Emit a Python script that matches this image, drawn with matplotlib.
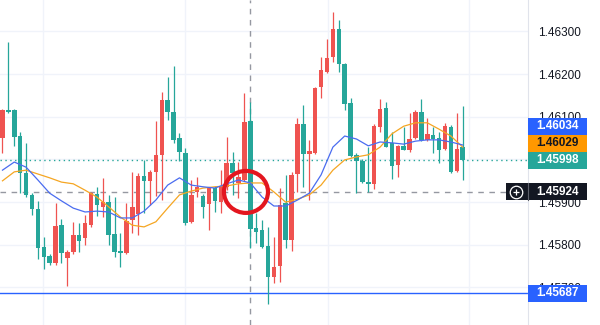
import numpy as np
import matplotlib
matplotlib.use("Agg")
import matplotlib.pyplot as plt
from matplotlib.patches import Rectangle, Ellipse
from matplotlib.transforms import blended_transform_factory

plt.rcParams['font.family'] = ['Liberation Sans', 'DejaVu Sans']

# OHLC (79 candles)
opens = [1.46050, 1.46116, 1.46116, 1.46055, 1.45968, 1.45917, 1.45884, 1.45795, 1.45774, 1.45757,
         1.45846, 1.45769, 1.45783, 1.45823, 1.45816, 1.45846, 1.45919, 1.45889, 1.45900, 1.45825,
         1.45785, 1.45781, 1.45858, 1.45872, 1.45961, 1.45950, 1.45971, 1.46011, 1.46139, 1.46111,
         1.46050, 1.46015, 1.45853, 1.45924, 1.45914, 1.45896, 1.45933, 1.45900, 1.45936, 1.45992,
         1.45945, 1.45952, 1.46090, 1.45839, 1.45835, 1.45797, 1.45725, 1.45750, 1.45898, 1.45811,
         1.45966, 1.46083, 1.46013, 1.46015, 1.46170, 1.46205, 1.46240, 1.46306, 1.46224, 1.46132,
         1.46011, 1.45996, 1.45947, 1.45943, 1.46076, 1.46121, 1.46039, 1.45987, 1.46032, 1.46022,
         1.46050, 1.46111, 1.46046, 1.46057, 1.46050, 1.46025, 1.46076, 1.45973, 1.46029]
highs = [1.46118, 1.46275, 1.46118, 1.46064, 1.46039, 1.45921, 1.45903, 1.45818, 1.45778, 1.45898,
         1.45861, 1.45788, 1.45853, 1.45851, 1.45870, 1.45924, 1.45936, 1.45957, 1.45917, 1.45912,
         1.45828, 1.45898, 1.45971, 1.45968, 1.45999, 1.45975, 1.46090, 1.46158, 1.46193, 1.46219,
         1.46062, 1.46027, 1.45952, 1.45959, 1.45919, 1.45936, 1.45938, 1.45975, 1.46053, 1.46018,
         1.45994, 1.46156, 1.46135, 1.45875, 1.45858, 1.45842, 1.45818, 1.45933, 1.45964, 1.45971,
         1.46097, 1.46128, 1.46046, 1.46170, 1.46240, 1.46282, 1.46346, 1.46327, 1.46227, 1.46144,
         1.46015, 1.46001, 1.46029, 1.46083, 1.46142, 1.46135, 1.46064, 1.46034, 1.46076, 1.46109,
         1.46116, 1.46142, 1.46097, 1.46076, 1.46064, 1.46086, 1.46081, 1.46109, 1.46125]
lows = [1.46015, 1.46109, 1.46032, 1.45921, 1.45912, 1.45870, 1.45767, 1.45743, 1.45753, 1.45753,
        1.45757, 1.45703, 1.45778, 1.45783, 1.45800, 1.45842, 1.45868, 1.45865, 1.45800, 1.45771,
        1.45748, 1.45778, 1.45828, 1.45823, 1.45875, 1.45893, 1.45914, 1.45905, 1.46092, 1.46039,
        1.45996, 1.45846, 1.45851, 1.45912, 1.45863, 1.45835, 1.45877, 1.45875, 1.45928, 1.45917,
        1.45910, 1.45950, 1.45793, 1.45804, 1.45793, 1.45661, 1.45710, 1.45713, 1.45793, 1.45785,
        1.45924, 1.45936, 1.45905, 1.46013, 1.46144, 1.46203, 1.46229, 1.46205, 1.46116, 1.46006,
        1.45921, 1.45945, 1.45924, 1.45931, 1.46064, 1.46029, 1.45954, 1.45959, 1.46022, 1.46018,
        1.46048, 1.46043, 1.46043, 1.46015, 1.45992, 1.46022, 1.45968, 1.45971, 1.45952]
closes = [1.46116, 1.46111, 1.46053, 1.45968, 1.45917, 1.45884, 1.45793, 1.45771, 1.45757, 1.45844,
          1.45781, 1.45783, 1.45823, 1.45809, 1.45851, 1.45921, 1.45893, 1.45900, 1.45823, 1.45783,
          1.45781, 1.45856, 1.45889, 1.45961, 1.45950, 1.45971, 1.46011, 1.46139, 1.46111, 1.46046,
          1.46018, 1.45851, 1.45917, 1.45936, 1.45889, 1.45933, 1.45903, 1.45938, 1.45992, 1.45968,
          1.45959, 1.46088, 1.45837, 1.45830, 1.45795, 1.45725, 1.45748, 1.45893, 1.45811, 1.45964,
          1.46083, 1.46013, 1.46020, 1.46168, 1.46210, 1.46238, 1.46306, 1.46224, 1.46130, 1.46008,
          1.45996, 1.45947, 1.45943, 1.46078, 1.46118, 1.46029, 1.45985, 1.46032, 1.46022, 1.46048,
          1.46111, 1.46046, 1.46060, 1.46048, 1.46022, 1.46078, 1.45971, 1.46025, 1.45998]

# moving average lines, read every 2 candles
ma_idx = list(range(0, 80, 2))
ma_fast = [1.45975, 1.45994, 1.45982, 1.45952, 1.45921, 1.45903, 1.45886, 1.45877, 1.45879, 1.45877,
           1.45863, 1.45863, 1.45879, 1.45905, 1.45940, 1.45957, 1.45940, 1.45936, 1.45933, 1.45943,
           1.45952, 1.45945, 1.45912, 1.45891, 1.45891, 1.45905, 1.45921, 1.45964, 1.46029, 1.46055,
           1.46048, 1.46032, 1.46041, 1.46039, 1.46036, 1.46043, 1.46046, 1.46046, 1.46041, 1.46034]
ma_slow = [1.45950, 1.45971, 1.45975, 1.45966, 1.45957, 1.45947, 1.45943, 1.45928, 1.45912, 1.45889,
           1.45865, 1.45846, 1.45842, 1.45854, 1.45886, 1.45917, 1.45926, 1.45933, 1.45936, 1.45938,
           1.45943, 1.45945, 1.45945, 1.45924, 1.45900, 1.45907, 1.45917, 1.45940, 1.45975, 1.45999,
           1.46006, 1.46011, 1.46029, 1.46060, 1.46078, 1.46086, 1.46086, 1.46071, 1.46055, 1.46029]

yticks = [1.457, 1.458, 1.459, 1.460, 1.461, 1.462, 1.463]
# 1.46000 sits fully under the last-price tag in the screenshot
ytick_labels = ['1.45700', '1.45800', '1.45900', '', '1.46100', '1.46200', '1.46300']
last_price = 1.45998
fast_last = 1.46034
slow_last = 1.46029
cross_price = 1.45924
cross_idx = 42
support = 1.45687

UP = '#ef5350'
DOWN = '#26a69a'
BLUE = '#2962ff'
ORANGE = '#ff9800'

fig = plt.figure(figsize=(6, 3.25), dpi=100)
ax = fig.add_axes([0, 0, 528 / 600, 1])
ax.set_xlim(-0.42, 89.07)
ax.set_ylim(1.456121, 1.463738)
px = (1.463738 - 1.456121) / 325  # price per pixel

# grid
for g in [6.9, 31.0, 55.1, 79.1]:
    ax.axvline(g, color='#f0f3fa', lw=1, zorder=0)
for t in yticks:
    ax.axhline(t, color='#f0f3fa', lw=1, zorder=0)

# candles
x = np.arange(len(opens))
o = np.array(opens); c = np.array(closes)
cols = [UP if cc > oo else DOWN for oo, cc in zip(o, c)]
ax.vlines(x, lows, highs, colors=cols, lw=0.9, zorder=2)
body = np.maximum(np.abs(c - o), px * 1.2)
ax.bar(x, body, bottom=np.minimum(o, c), width=0.76, color=cols, zorder=3)

# moving averages
ax.plot(ma_idx, ma_slow, color='#f5a623', lw=0.9, zorder=4)
ax.plot(ma_idx, ma_fast, color='#4a6cf0', lw=0.9, zorder=4)

# horizontal lines
ax.axhline(last_price, color=DOWN, lw=1, ls=(0, (1, 2.5)), zorder=1)
ax.axhline(support, color=BLUE, lw=1, zorder=1)
ax.axhline(cross_price, xmax=506 / 528, color='#9598a1', lw=1, ls=(0, (4, 4)), zorder=1)
ax.axvline(cross_idx, color='#9598a1', lw=1, ls=(0, (4, 4)), zorder=1)

# red circle
ax.add_patch(Ellipse((41.27, cross_price), 7.46, 42 * px, fill=False,
                     edgecolor='#e3161f', lw=3, zorder=6))

# axes styling
for s in ['top', 'left', 'bottom']:
    ax.spines[s].set_visible(False)
ax.spines['right'].set_color('#e0e3eb')
ax.set_xticks([])
ax.yaxis.tick_right()
ax.set_yticks(yticks)
ax.set_yticklabels(ytick_labels)
ax.tick_params(axis='y', length=0, pad=7.5, labelsize=8.5, labelcolor='#131722')

# price tags on the axis
trans = blended_transform_factory(ax.transAxes, ax.transData)
x_end = 587 / 528


def tag(y, text, face, fg, x0=1.0):
    ax.add_patch(Rectangle((x0, y - 8.5 * px), x_end - x0, 17 * px, transform=trans,
                           facecolor=face, edgecolor='none', clip_on=False, zorder=10))
    ax.text(1.0 + (x_end - 1.0) / 2, y, text, transform=trans, ha='center', va='center',
            color=fg, fontsize=8.5, fontweight='bold', clip_on=False, zorder=11)


tag(last_price + 34 * px, '%.5f' % fast_last, BLUE, 'white')
tag(last_price + 17 * px, '%.5f' % slow_last, ORANGE, '#131722')
tag(last_price, '%.5f' % last_price, DOWN, 'white')
tag(cross_price, '%.5f' % cross_price, '#131722', 'white', x0=506 / 528)
tag(support, '%.5f' % support, BLUE, 'white')
ax.plot([1.0, 1.0], [cross_price - 8.5 * px, cross_price + 8.5 * px], transform=trans,
        color='#5d606b', lw=0.8, clip_on=False, zorder=12)
ax.plot([516 / 528], [cross_price], transform=trans, marker='o', ms=9, mfc='none',
        mec='white', mew=0.9, clip_on=False, zorder=12)
ax.plot([516 / 528], [cross_price], transform=trans, marker='+', ms=5, mec='white',
        mew=0.9, clip_on=False, zorder=12)

fig.savefig('out.png', dpi=100, facecolor='white')
